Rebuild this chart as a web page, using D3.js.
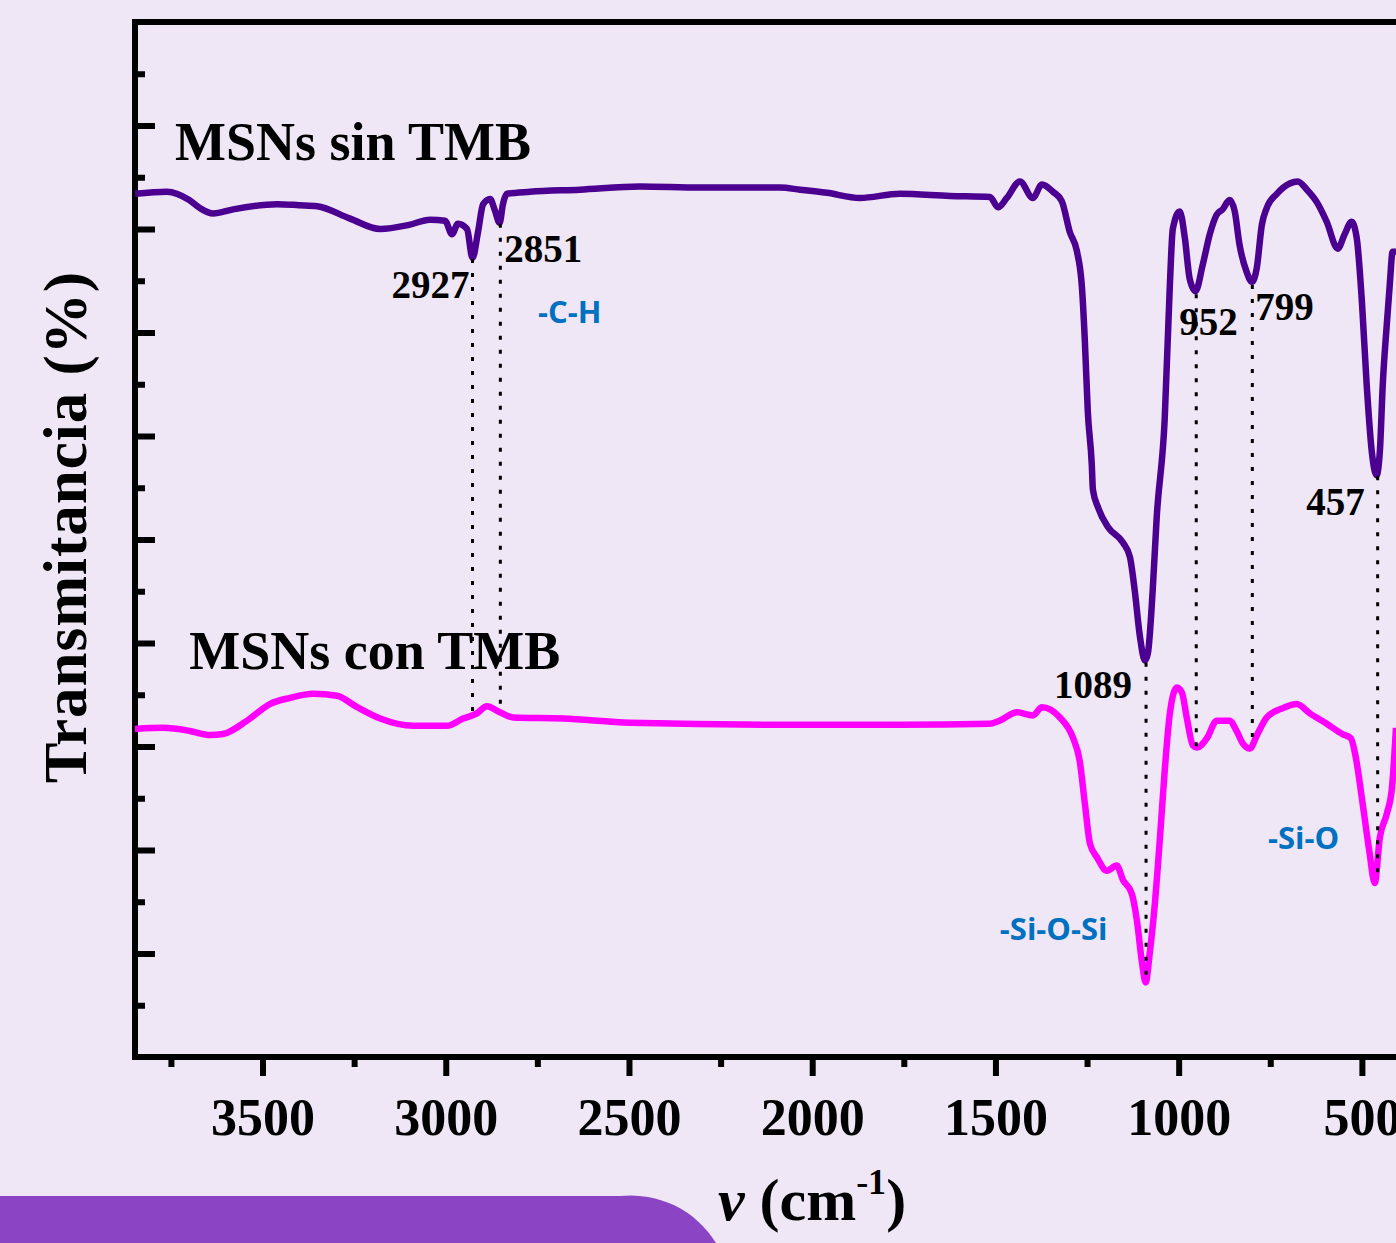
<!DOCTYPE html>
<html>
<head>
<meta charset="utf-8">
<script src="https://cdn.jsdelivr.net/npm/d3@7"></script>
<style>
  html, body { margin: 0; padding: 0; background: #efe7f5; }
  svg { display: block; }
</style>
</head>
<body>
<div id="chart"></div>
<script>
// FTIR spectra, wavenumber (cm-1) vs transmittance (arb. %)
const sinTMB = [
  [3848,83.4],[3761,83.6],[3700,82.8],[3670,82.0],[3635,81.5],[3580,81.9],[3460,82.4],[3400,82.3],
  [3351,82.2],[3261,81.0],[3179,80.0],[3100,80.4],[3043,80.9],[3002,80.8],[2983,79.5],[2967,80.5],
  [2942,80.0],[2927,77.2],[2912,79.7],[2898,82.4],[2879,82.9],[2866,81.8],[2853,80.6],[2844,82.4],
  [2833,83.4],[2770,83.6],[2634,83.8],[2470,84.1],[2306,84.0],[2088,84.0],[2033,83.8],[1960,83.5],
  [1870,83.0],[1761,83.4],[1624,83.2],[1515,83.1],[1493,82.1],[1469,83.0],[1433,84.6],[1398,83.0],
  [1373,84.3],[1343,83.6],[1319,82.7],[1297,79.7],[1278,77.9],[1264,74.4],[1256,69.2],[1248,62.4],
  [1237,57.2],[1234,54.8],[1220,53.1],[1193,51.2],[1152,49.7],[1133,48.3],[1120,45.1],[1106,40.7],
  [1092,38.3],[1084,39.0],[1071,45.0],[1060,52.1],[1038,61.7],[1024,74.6],[1016,80.0],[997,81.7],
  [983,79.1],[970,75.2],[954,74.0],[934,76.6],[915,79.5],[896,81.4],[880,81.9],[861,82.8],
  [847,81.7],[834,78.5],[815,75.9],[800,74.9],[787,76.2],[773,80.4],[760,82.0],[732,83.4],
  [697,84.4],[675,84.6],[650,83.8],[623,82.6],[596,80.7],[566,78.1],[547,79.5],[528,80.7],
  [514,79.1],[500,73.0],[487,65.0],[473,58.5],[460,56.2],[451,58.5],[443,65.0],[432,70.8],
  [424,74.6],[416,77.8],[407,77.8]
];

const conTMB = [
  [3848,31.7],[3771,31.8],[3698,31.5],[3643,31.1],[3608,31.2],[3542,32.5],[3480,34.1],[3425,34.7],
  [3362,35.1],[3297,34.9],[3242,33.8],[3179,32.7],[3089,32.0],[2997,32.0],[2953,32.7],[2915,33.2],
  [2888,33.9],[2852,33.3],[2816,32.8],[2680,32.7],[2497,32.3],[2033,32.1],[1761,32.1],[1515,32.2],
  [1488,32.5],[1441,33.3],[1398,33.0],[1373,33.8],[1324,32.8],[1289,30.9],[1270,28.6],[1256,24.5],
  [1242,20.6],[1223,19.3],[1196,18.0],[1169,18.5],[1152,17.1],[1128,15.8],[1114,13.2],[1100,9.1],
  [1090,7.2],[1079,10.0],[1065,14.8],[1051,21.2],[1038,27.7],[1024,33.2],[1005,35.7],[991,35.2],
  [978,32.8],[961,30.1],[950,29.9],[923,30.8],[896,32.5],[861,32.5],[842,31.5],[825,30.3],
  [806,29.8],[785,31.2],[760,32.8],[716,33.7],[678,34.1],[642,33.2],[596,32.2],[553,31.2],
  [530,30.8],[518,29.2],[498,24.5],[479,19.7],[465,16.8],[451,21.2],[432,23.5],[418,26.0],[407,31.8]
];

// axis ticks
const xMajor = [3500, 3000, 2500, 2000, 1500, 1000, 500];
const xMinor = [3750, 3250, 2750, 2250, 1750, 1250, 750];
const yMajor = [10, 20, 30, 40, 50, 60, 70, 80, 90];
const yMinor = [5, 15, 25, 35, 45, 55, 65, 75, 85, 95];

// marked bands: wavenumber, top and bottom of the guide line
const peaks = [2927, 2851, 1089, 952, 799, 457];
const peakTop = [77.1, 80.5, 38.1, 73.7, 74.6, 56.1];
const peakBottom = [32.5, 33.5, 7.4, 29.3, 30.3, 17.1];

const seriesNames = ["MSNs sin TMB", "MSNs con TMB"];
const groupNames = ["-C-H", "-Si-O-Si", "-Si-O"];

const W = 1396, H = 1243;
const margin = {left: 135, top: 22, right: 1400, bottom: 1057};

let svg = d3.select("#chart").append("svg")
  .attr("width", W)
  .attr("height", H);

svg.append("rect").attr("width", W).attr("height", H).attr("fill", "#efe7f5");

let x = d3.scaleLinear().domain([3848, 396]).range([margin.left, margin.right]);
let y = d3.scaleLinear().domain([0, 100]).range([margin.bottom, margin.top]);

//decorations at the bottom
let defs = svg.append("defs");
let grad = defs.append("radialGradient").attr("id", "shade")
  .attr("cx", "0.5").attr("cy", "1").attr("r", "0.6");
grad.append("stop").attr("offset", "0%").attr("stop-color", "#c9c3cf").attr("stop-opacity", 0.8);
grad.append("stop").attr("offset", "100%").attr("stop-color", "#efe7f5").attr("stop-opacity", 0);
svg.append("ellipse").attr("cx", 1330).attr("cy", 1260).attr("rx", 260).attr("ry", 45)
  .attr("fill", "url(#shade)");

svg.append("path")
  .attr("d", "M0,1196 H620 A100,100 0 0 1 716,1243 V1243 H0 Z")
  .attr("fill", "#8b45c4");

//axes
let gx = svg.append("g").attr("transform", `translate(0,${margin.bottom})`);
gx.call(d3.axisBottom(x).tickValues(xMajor).tickSize(19).tickFormat(d3.format("d")));
gx.select(".domain").remove();
gx.selectAll("line").attr("stroke", "#000").attr("stroke-width", 6);
gx.selectAll("text")
  .attr("y", 78).attr("dy", 0)
  .attr("fill", "#000")
  .style("font-family", "'Liberation Serif', 'Times New Roman', serif")
  .style("font-weight", "bold")
  .style("font-size", "52px");

let gxm = svg.append("g").attr("transform", `translate(0,${margin.bottom})`);
gxm.call(d3.axisBottom(x).tickValues(xMinor).tickSize(10).tickFormat(""));
gxm.select(".domain").remove();
gxm.selectAll("line").attr("stroke", "#000").attr("stroke-width", 6);

let gy = svg.append("g").attr("transform", `translate(${margin.left},0)`);
gy.call(d3.axisLeft(y).tickValues(yMajor).tickSize(-20).tickFormat(""));
gy.select(".domain").remove();
gy.selectAll("line").attr("stroke", "#000").attr("stroke-width", 6);

let gym = svg.append("g").attr("transform", `translate(${margin.left},0)`);
gym.call(d3.axisLeft(y).tickValues(yMinor).tickSize(-10).tickFormat(""));
gym.select(".domain").remove();
gym.selectAll("line").attr("stroke", "#000").attr("stroke-width", 6);

//frame
svg.append("rect")
  .attr("x", margin.left).attr("y", margin.top)
  .attr("width", margin.right - margin.left)
  .attr("height", margin.bottom - margin.top)
  .attr("fill", "none").attr("stroke", "#000").attr("stroke-width", 6);

//axis titles
svg.append("text")
  .attr("transform", "translate(86,527) rotate(-90)")
  .attr("text-anchor", "middle")
  .style("font-family", "'Liberation Serif', serif")
  .style("font-weight", "bold")
  .style("font-size", "61px")
  .style("letter-spacing", "1px")
  .text("Transmitancia (%)");

let xt = svg.append("text")
  .attr("x", 812).attr("y", 1220)
  .attr("text-anchor", "middle")
  .style("font-family", "'Liberation Serif', serif")
  .style("font-weight", "bold")
  .style("font-size", "60px");
xt.append("tspan").style("font-style", "italic").text("ν");
xt.append("tspan").text(" (cm");
xt.append("tspan").attr("dy", -26).style("font-size", "36px").text("-1");
xt.append("tspan").attr("dy", 26).text(")");

//spectra
let line = d3.line()
  .x(d => x(d[0]))
  .y(d => y(d[1]))
  .curve(d3.curveMonotoneX);

svg.append("path").datum(sinTMB)
  .attr("fill", "none").attr("stroke", "#4b0091").attr("stroke-width", 6.5)
  .attr("stroke-linejoin", "round")
  .attr("d", line);

svg.append("path").datum(conTMB)
  .attr("fill", "none").attr("stroke", "#ff00ff").attr("stroke-width", 6.5)
  .attr("stroke-linejoin", "round")
  .attr("d", line);

//series names
const namePos = [[3739, 86.7], [3700, 37.5]];
svg.selectAll(".name").data(seriesNames).enter().append("text")
  .attr("class", "name")
  .attr("x", (d, i) => x(namePos[i][0]))
  .attr("y", (d, i) => y(namePos[i][1]))
  .style("font-family", "'Liberation Serif', serif")
  .style("font-weight", "bold")
  .style("font-size", "54px")
  .text(d => d);

//band guide lines
svg.selectAll(".guide").data(peaks).enter().append("line")
  .attr("class", "guide")
  .attr("x1", d => x(d)).attr("x2", d => x(d))
  .attr("y1", (d, i) => y(peakTop[i]))
  .attr("y2", (d, i) => y(peakBottom[i]))
  .attr("stroke", "#000").attr("stroke-width", 3)
  .attr("stroke-dasharray", "4,10");

//band numbers: [x offset px, baseline T, anchor]
const peakLabelPos = [[-3, 73.3, "end"], [4, 76.8, "start"], [-14, 34.7, "end"],
                      [-17, 69.8, "start"], [3, 71.2, "start"], [-13, 52.4, "end"]];
svg.selectAll(".peak").data(peaks).enter().append("text")
  .attr("class", "peak")
  .attr("x", (d, i) => x(d) + peakLabelPos[i][0])
  .attr("y", (d, i) => y(peakLabelPos[i][1]))
  .attr("text-anchor", (d, i) => peakLabelPos[i][2])
  .style("font-family", "'Liberation Serif', serif")
  .style("font-weight", "bold")
  .style("font-size", "39px")
  .text(d => d);

//group assignments
const groupPos = [[2748, 70.9], [1488, 11.3], [756, 20.1]];
svg.selectAll(".group").data(groupNames).enter().append("text")
  .attr("class", "group")
  .attr("x", (d, i) => x(groupPos[i][0]))
  .attr("y", (d, i) => y(groupPos[i][1]))
  .attr("fill", "#0070c0")
  .style("font-family", "'Open Sans', sans-serif")
  .style("font-weight", "700")
  .style("font-size", "31px")
  .text(d => d);
</script>
</body>
</html>
